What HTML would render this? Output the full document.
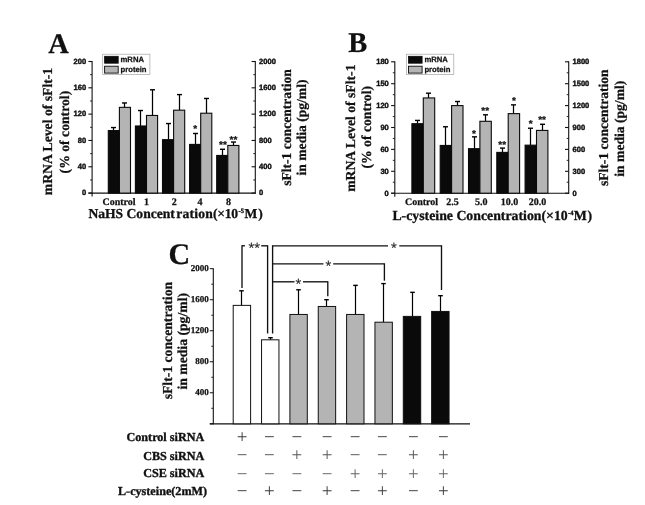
<!DOCTYPE html>
<html><head><meta charset="utf-8"><title>Figure</title>
<style>text{text-rendering:geometricPrecision;}html,body{margin:0;padding:0;background:#fff;}svg{display:block;}</style>
</head><body>
<svg width="645" height="505" viewBox="0 0 645 505">
<rect x="0" y="0" width="645" height="505" fill="#ffffff"/>
<line x1="92.10" y1="61.00" x2="92.10" y2="196.60" stroke="#111" stroke-width="1.1"/>
<line x1="255.30" y1="61.00" x2="255.30" y2="193.60" stroke="#111" stroke-width="1.1"/>
<line x1="88.40" y1="193.10" x2="255.80" y2="193.10" stroke="#111" stroke-width="1.1"/>
<line x1="88.40" y1="193.10" x2="92.10" y2="193.10" stroke="#111" stroke-width="1.1"/>
<line x1="251.60" y1="193.10" x2="255.30" y2="193.10" stroke="#111" stroke-width="1.1"/>
<text x="86.10" y="195.40" font-family='"Liberation Sans", sans-serif' font-size="7.55" font-weight="bold" text-anchor="end" fill="#111" stroke="#111" stroke-width="0.4">0</text>
<text x="259.10" y="195.40" font-family='"Liberation Sans", sans-serif' font-size="7.55" font-weight="bold" text-anchor="start" fill="#111" stroke="#111" stroke-width="0.4">0</text>
<line x1="90.10" y1="179.94" x2="92.10" y2="179.94" stroke="#111" stroke-width="0.9"/>
<line x1="253.30" y1="179.94" x2="255.30" y2="179.94" stroke="#111" stroke-width="0.9"/>
<line x1="88.40" y1="166.78" x2="92.10" y2="166.78" stroke="#111" stroke-width="1.1"/>
<line x1="251.60" y1="166.78" x2="255.30" y2="166.78" stroke="#111" stroke-width="1.1"/>
<text x="86.10" y="169.08" font-family='"Liberation Sans", sans-serif' font-size="7.55" font-weight="bold" text-anchor="end" fill="#111" stroke="#111" stroke-width="0.4">40</text>
<text x="259.10" y="169.08" font-family='"Liberation Sans", sans-serif' font-size="7.55" font-weight="bold" text-anchor="start" fill="#111" stroke="#111" stroke-width="0.4">400</text>
<line x1="90.10" y1="153.62" x2="92.10" y2="153.62" stroke="#111" stroke-width="0.9"/>
<line x1="253.30" y1="153.62" x2="255.30" y2="153.62" stroke="#111" stroke-width="0.9"/>
<line x1="88.40" y1="140.46" x2="92.10" y2="140.46" stroke="#111" stroke-width="1.1"/>
<line x1="251.60" y1="140.46" x2="255.30" y2="140.46" stroke="#111" stroke-width="1.1"/>
<text x="86.10" y="142.76" font-family='"Liberation Sans", sans-serif' font-size="7.55" font-weight="bold" text-anchor="end" fill="#111" stroke="#111" stroke-width="0.4">80</text>
<text x="259.10" y="142.76" font-family='"Liberation Sans", sans-serif' font-size="7.55" font-weight="bold" text-anchor="start" fill="#111" stroke="#111" stroke-width="0.4">800</text>
<line x1="90.10" y1="127.30" x2="92.10" y2="127.30" stroke="#111" stroke-width="0.9"/>
<line x1="253.30" y1="127.30" x2="255.30" y2="127.30" stroke="#111" stroke-width="0.9"/>
<line x1="88.40" y1="114.14" x2="92.10" y2="114.14" stroke="#111" stroke-width="1.1"/>
<line x1="251.60" y1="114.14" x2="255.30" y2="114.14" stroke="#111" stroke-width="1.1"/>
<text x="86.10" y="116.44" font-family='"Liberation Sans", sans-serif' font-size="7.55" font-weight="bold" text-anchor="end" fill="#111" stroke="#111" stroke-width="0.4">120</text>
<text x="259.10" y="116.44" font-family='"Liberation Sans", sans-serif' font-size="7.55" font-weight="bold" text-anchor="start" fill="#111" stroke="#111" stroke-width="0.4">1200</text>
<line x1="90.10" y1="100.98" x2="92.10" y2="100.98" stroke="#111" stroke-width="0.9"/>
<line x1="253.30" y1="100.98" x2="255.30" y2="100.98" stroke="#111" stroke-width="0.9"/>
<line x1="88.40" y1="87.82" x2="92.10" y2="87.82" stroke="#111" stroke-width="1.1"/>
<line x1="251.60" y1="87.82" x2="255.30" y2="87.82" stroke="#111" stroke-width="1.1"/>
<text x="86.10" y="90.12" font-family='"Liberation Sans", sans-serif' font-size="7.55" font-weight="bold" text-anchor="end" fill="#111" stroke="#111" stroke-width="0.4">160</text>
<text x="259.10" y="90.12" font-family='"Liberation Sans", sans-serif' font-size="7.55" font-weight="bold" text-anchor="start" fill="#111" stroke="#111" stroke-width="0.4">1600</text>
<line x1="90.10" y1="74.66" x2="92.10" y2="74.66" stroke="#111" stroke-width="0.9"/>
<line x1="253.30" y1="74.66" x2="255.30" y2="74.66" stroke="#111" stroke-width="0.9"/>
<line x1="88.40" y1="61.50" x2="92.10" y2="61.50" stroke="#111" stroke-width="1.1"/>
<line x1="251.60" y1="61.50" x2="255.30" y2="61.50" stroke="#111" stroke-width="1.1"/>
<text x="86.10" y="63.80" font-family='"Liberation Sans", sans-serif' font-size="7.55" font-weight="bold" text-anchor="end" fill="#111" stroke="#111" stroke-width="0.4">200</text>
<text x="259.10" y="63.80" font-family='"Liberation Sans", sans-serif' font-size="7.55" font-weight="bold" text-anchor="start" fill="#111" stroke="#111" stroke-width="0.4">2000</text>
<line x1="113.50" y1="130.59" x2="113.50" y2="127.56" stroke="#000" stroke-width="1.25"/>
<line x1="111.00" y1="127.56" x2="116.00" y2="127.56" stroke="#000" stroke-width="1.4"/>
<rect x="108.30" y="130.59" width="11.10" height="62.51" fill="#0a0a0a" stroke="#0a0a0a" stroke-width="1.1"/>
<line x1="124.50" y1="107.36" x2="124.50" y2="102.95" stroke="#000" stroke-width="1.25"/>
<line x1="122.00" y1="102.95" x2="127.00" y2="102.95" stroke="#000" stroke-width="1.4"/>
<rect x="119.40" y="107.36" width="11.10" height="85.74" fill="#b4b4b4" stroke="#0a0a0a" stroke-width="1.1"/>
<line x1="140.50" y1="125.98" x2="140.50" y2="110.52" stroke="#000" stroke-width="1.25"/>
<line x1="138.00" y1="110.52" x2="143.00" y2="110.52" stroke="#000" stroke-width="1.4"/>
<rect x="135.40" y="125.98" width="11.10" height="67.12" fill="#0a0a0a" stroke="#0a0a0a" stroke-width="1.1"/>
<line x1="152.50" y1="115.46" x2="152.50" y2="89.79" stroke="#000" stroke-width="1.25"/>
<line x1="150.00" y1="89.79" x2="155.00" y2="89.79" stroke="#000" stroke-width="1.4"/>
<rect x="146.50" y="115.46" width="11.10" height="77.64" fill="#b4b4b4" stroke="#0a0a0a" stroke-width="1.1"/>
<line x1="168.50" y1="139.67" x2="168.50" y2="123.55" stroke="#000" stroke-width="1.25"/>
<line x1="166.00" y1="123.55" x2="171.00" y2="123.55" stroke="#000" stroke-width="1.4"/>
<rect x="162.50" y="139.67" width="11.10" height="53.43" fill="#0a0a0a" stroke="#0a0a0a" stroke-width="1.1"/>
<line x1="179.50" y1="110.19" x2="179.50" y2="94.60" stroke="#000" stroke-width="1.25"/>
<line x1="177.00" y1="94.60" x2="182.00" y2="94.60" stroke="#000" stroke-width="1.4"/>
<rect x="173.60" y="110.19" width="11.10" height="82.91" fill="#b4b4b4" stroke="#0a0a0a" stroke-width="1.1"/>
<line x1="195.50" y1="144.41" x2="195.50" y2="133.49" stroke="#000" stroke-width="1.25"/>
<line x1="193.00" y1="133.49" x2="198.00" y2="133.49" stroke="#000" stroke-width="1.4"/>
<rect x="189.60" y="144.41" width="11.10" height="48.69" fill="#0a0a0a" stroke="#0a0a0a" stroke-width="1.1"/>
<line x1="206.50" y1="113.22" x2="206.50" y2="98.48" stroke="#000" stroke-width="1.25"/>
<line x1="204.00" y1="98.48" x2="209.00" y2="98.48" stroke="#000" stroke-width="1.4"/>
<rect x="200.70" y="113.22" width="11.10" height="79.88" fill="#b4b4b4" stroke="#0a0a0a" stroke-width="1.1"/>
<line x1="222.50" y1="155.46" x2="222.50" y2="149.28" stroke="#000" stroke-width="1.25"/>
<line x1="220.00" y1="149.28" x2="225.00" y2="149.28" stroke="#000" stroke-width="1.4"/>
<rect x="216.70" y="155.46" width="11.10" height="37.64" fill="#0a0a0a" stroke="#0a0a0a" stroke-width="1.1"/>
<line x1="233.50" y1="145.46" x2="233.50" y2="142.04" stroke="#000" stroke-width="1.25"/>
<line x1="231.00" y1="142.04" x2="236.00" y2="142.04" stroke="#000" stroke-width="1.4"/>
<rect x="227.80" y="145.46" width="11.10" height="47.64" fill="#b4b4b4" stroke="#0a0a0a" stroke-width="1.1"/>
<text x="195.30" y="131.90" font-family='"Liberation Sans", sans-serif' font-size="10" font-weight="bold" text-anchor="middle" fill="#111"  stroke="#111" stroke-width="0.25">*</text>
<text x="223.00" y="148.00" font-family='"Liberation Sans", sans-serif' font-size="10" font-weight="bold" text-anchor="middle" fill="#111"  stroke="#111" stroke-width="0.25">**</text>
<text x="233.50" y="143.00" font-family='"Liberation Sans", sans-serif' font-size="10" font-weight="bold" text-anchor="middle" fill="#111"  stroke="#111" stroke-width="0.25">**</text>
<text x="119.00" y="204.60" font-family='"Liberation Serif", serif' font-size="10" font-weight="bold" text-anchor="middle" fill="#111"  stroke="#111" stroke-width="0.25">Control</text>
<text x="146.40" y="204.60" font-family='"Liberation Serif", serif' font-size="10" font-weight="bold" text-anchor="middle" fill="#111"  stroke="#111" stroke-width="0.25">1</text>
<text x="174.20" y="204.60" font-family='"Liberation Serif", serif' font-size="10" font-weight="bold" text-anchor="middle" fill="#111"  stroke="#111" stroke-width="0.25">2</text>
<text x="200.00" y="204.60" font-family='"Liberation Serif", serif' font-size="10" font-weight="bold" text-anchor="middle" fill="#111"  stroke="#111" stroke-width="0.25">4</text>
<text x="228.60" y="204.60" font-family='"Liberation Serif", serif' font-size="10" font-weight="bold" text-anchor="middle" fill="#111"  stroke="#111" stroke-width="0.25">8</text>
<text x="88.4" y="217.9" font-family='"Liberation Serif", serif' font-size="13.6" font-weight="bold" fill="#111" stroke="#111" stroke-width="0.3">NaHS Concent<tspan dx="1.3" letter-spacing="0.22">ration</tspan><tspan letter-spacing="-0.3">(×10</tspan><tspan font-size="6.5" dx="0.8" dy="-5">-5</tspan><tspan dx="0.6" dy="5" letter-spacing="0.9">M)</tspan></text>
<rect x="102.70" y="54.20" width="47.20" height="20.20" fill="#fff" stroke="#a4a4a4" stroke-width="0.7"/>
<rect x="104.60" y="56.30" width="13.60" height="6.90" fill="#0a0a0a" stroke="#0a0a0a" stroke-width="0.8"/>
<rect x="104.60" y="66.20" width="13.60" height="6.90" fill="#b4b4b4" stroke="#0a0a0a" stroke-width="0.9"/>
<text x="120.50" y="62.40" font-family='"Liberation Sans", sans-serif' font-size="7.7" font-weight="bold" text-anchor="start" fill="#111"  stroke="#111" stroke-width="0.25">mRNA</text>
<text x="120.50" y="72.10" font-family='"Liberation Sans", sans-serif' font-size="7.7" font-weight="bold" text-anchor="start" fill="#111"  stroke="#111" stroke-width="0.25">protein</text>
<text x="48.20" y="52.50" font-family='"Liberation Serif", serif' font-size="28.5" font-weight="bold" text-anchor="start" fill="#111"  stroke="#111" stroke-width="0.25">A</text>
<text stroke="#111" stroke-width="0.25" transform="translate(52.30,131.50) rotate(-90)" font-family='"Liberation Serif", serif' font-size="13.7" font-weight="bold" text-anchor="middle" fill="#111">mRNA Level of sFlt-1</text>
<text stroke="#111" stroke-width="0.25" transform="translate(68.60,132.10) rotate(-90)" font-family='"Liberation Serif", serif' font-size="13.7" font-weight="bold" text-anchor="middle" fill="#111">(% of control)</text>
<text stroke="#111" stroke-width="0.25" transform="translate(291.00,127.50) rotate(-90)" font-family='"Liberation Serif", serif' font-size="13.6" font-weight="bold" text-anchor="middle" fill="#111">sFlt-1 concentration</text>
<text stroke="#111" stroke-width="0.25" transform="translate(305.70,127.50) rotate(-90)" font-family='"Liberation Serif", serif' font-size="13.6" font-weight="bold" text-anchor="middle" fill="#111">in media (pg/ml)</text>
<line x1="394.80" y1="61.30" x2="394.80" y2="196.70" stroke="#111" stroke-width="1.1"/>
<line x1="568.70" y1="61.30" x2="568.70" y2="193.70" stroke="#111" stroke-width="1.1"/>
<line x1="391.10" y1="193.20" x2="569.20" y2="193.20" stroke="#111" stroke-width="1.1"/>
<line x1="391.10" y1="193.20" x2="394.80" y2="193.20" stroke="#111" stroke-width="1.1"/>
<line x1="565.00" y1="193.20" x2="568.70" y2="193.20" stroke="#111" stroke-width="1.1"/>
<text x="388.80" y="195.50" font-family='"Liberation Sans", sans-serif' font-size="7.55" font-weight="bold" text-anchor="end" fill="#111" stroke="#111" stroke-width="0.4">0</text>
<text x="572.50" y="195.50" font-family='"Liberation Sans", sans-serif' font-size="7.55" font-weight="bold" text-anchor="start" fill="#111" stroke="#111" stroke-width="0.4">0</text>
<line x1="392.80" y1="182.25" x2="394.80" y2="182.25" stroke="#111" stroke-width="0.9"/>
<line x1="566.70" y1="182.25" x2="568.70" y2="182.25" stroke="#111" stroke-width="0.9"/>
<line x1="391.10" y1="171.30" x2="394.80" y2="171.30" stroke="#111" stroke-width="1.1"/>
<line x1="565.00" y1="171.30" x2="568.70" y2="171.30" stroke="#111" stroke-width="1.1"/>
<text x="388.80" y="173.60" font-family='"Liberation Sans", sans-serif' font-size="7.55" font-weight="bold" text-anchor="end" fill="#111" stroke="#111" stroke-width="0.4">30</text>
<text x="572.50" y="173.60" font-family='"Liberation Sans", sans-serif' font-size="7.55" font-weight="bold" text-anchor="start" fill="#111" stroke="#111" stroke-width="0.4">300</text>
<line x1="392.80" y1="160.35" x2="394.80" y2="160.35" stroke="#111" stroke-width="0.9"/>
<line x1="566.70" y1="160.35" x2="568.70" y2="160.35" stroke="#111" stroke-width="0.9"/>
<line x1="391.10" y1="149.40" x2="394.80" y2="149.40" stroke="#111" stroke-width="1.1"/>
<line x1="565.00" y1="149.40" x2="568.70" y2="149.40" stroke="#111" stroke-width="1.1"/>
<text x="388.80" y="151.70" font-family='"Liberation Sans", sans-serif' font-size="7.55" font-weight="bold" text-anchor="end" fill="#111" stroke="#111" stroke-width="0.4">60</text>
<text x="572.50" y="151.70" font-family='"Liberation Sans", sans-serif' font-size="7.55" font-weight="bold" text-anchor="start" fill="#111" stroke="#111" stroke-width="0.4">600</text>
<line x1="392.80" y1="138.45" x2="394.80" y2="138.45" stroke="#111" stroke-width="0.9"/>
<line x1="566.70" y1="138.45" x2="568.70" y2="138.45" stroke="#111" stroke-width="0.9"/>
<line x1="391.10" y1="127.50" x2="394.80" y2="127.50" stroke="#111" stroke-width="1.1"/>
<line x1="565.00" y1="127.50" x2="568.70" y2="127.50" stroke="#111" stroke-width="1.1"/>
<text x="388.80" y="129.80" font-family='"Liberation Sans", sans-serif' font-size="7.55" font-weight="bold" text-anchor="end" fill="#111" stroke="#111" stroke-width="0.4">90</text>
<text x="572.50" y="129.80" font-family='"Liberation Sans", sans-serif' font-size="7.55" font-weight="bold" text-anchor="start" fill="#111" stroke="#111" stroke-width="0.4">900</text>
<line x1="392.80" y1="116.55" x2="394.80" y2="116.55" stroke="#111" stroke-width="0.9"/>
<line x1="566.70" y1="116.55" x2="568.70" y2="116.55" stroke="#111" stroke-width="0.9"/>
<line x1="391.10" y1="105.60" x2="394.80" y2="105.60" stroke="#111" stroke-width="1.1"/>
<line x1="565.00" y1="105.60" x2="568.70" y2="105.60" stroke="#111" stroke-width="1.1"/>
<text x="388.80" y="107.90" font-family='"Liberation Sans", sans-serif' font-size="7.55" font-weight="bold" text-anchor="end" fill="#111" stroke="#111" stroke-width="0.4">120</text>
<text x="572.50" y="107.90" font-family='"Liberation Sans", sans-serif' font-size="7.55" font-weight="bold" text-anchor="start" fill="#111" stroke="#111" stroke-width="0.4">1200</text>
<line x1="392.80" y1="94.65" x2="394.80" y2="94.65" stroke="#111" stroke-width="0.9"/>
<line x1="566.70" y1="94.65" x2="568.70" y2="94.65" stroke="#111" stroke-width="0.9"/>
<line x1="391.10" y1="83.70" x2="394.80" y2="83.70" stroke="#111" stroke-width="1.1"/>
<line x1="565.00" y1="83.70" x2="568.70" y2="83.70" stroke="#111" stroke-width="1.1"/>
<text x="388.80" y="86.00" font-family='"Liberation Sans", sans-serif' font-size="7.55" font-weight="bold" text-anchor="end" fill="#111" stroke="#111" stroke-width="0.4">150</text>
<text x="572.50" y="86.00" font-family='"Liberation Sans", sans-serif' font-size="7.55" font-weight="bold" text-anchor="start" fill="#111" stroke="#111" stroke-width="0.4">1500</text>
<line x1="392.80" y1="72.75" x2="394.80" y2="72.75" stroke="#111" stroke-width="0.9"/>
<line x1="566.70" y1="72.75" x2="568.70" y2="72.75" stroke="#111" stroke-width="0.9"/>
<line x1="391.10" y1="61.80" x2="394.80" y2="61.80" stroke="#111" stroke-width="1.1"/>
<line x1="565.00" y1="61.80" x2="568.70" y2="61.80" stroke="#111" stroke-width="1.1"/>
<text x="388.80" y="64.10" font-family='"Liberation Sans", sans-serif' font-size="7.55" font-weight="bold" text-anchor="end" fill="#111" stroke="#111" stroke-width="0.4">180</text>
<text x="572.50" y="64.10" font-family='"Liberation Sans", sans-serif' font-size="7.55" font-weight="bold" text-anchor="start" fill="#111" stroke="#111" stroke-width="0.4">1800</text>
<line x1="417.50" y1="123.70" x2="417.50" y2="120.42" stroke="#000" stroke-width="1.25"/>
<line x1="415.00" y1="120.42" x2="420.00" y2="120.42" stroke="#000" stroke-width="1.4"/>
<rect x="411.90" y="123.70" width="11.40" height="69.50" fill="#0a0a0a" stroke="#0a0a0a" stroke-width="1.1"/>
<line x1="428.50" y1="97.94" x2="428.50" y2="93.19" stroke="#000" stroke-width="1.25"/>
<line x1="426.00" y1="93.19" x2="431.00" y2="93.19" stroke="#000" stroke-width="1.4"/>
<rect x="423.30" y="97.94" width="11.40" height="95.26" fill="#b4b4b4" stroke="#0a0a0a" stroke-width="1.1"/>
<line x1="445.50" y1="145.46" x2="445.50" y2="126.77" stroke="#000" stroke-width="1.25"/>
<line x1="443.00" y1="126.77" x2="448.00" y2="126.77" stroke="#000" stroke-width="1.4"/>
<rect x="440.20" y="145.46" width="11.40" height="47.74" fill="#0a0a0a" stroke="#0a0a0a" stroke-width="1.1"/>
<line x1="457.50" y1="105.60" x2="457.50" y2="101.51" stroke="#000" stroke-width="1.25"/>
<line x1="455.00" y1="101.51" x2="460.00" y2="101.51" stroke="#000" stroke-width="1.4"/>
<rect x="451.60" y="105.60" width="11.40" height="87.60" fill="#b4b4b4" stroke="#0a0a0a" stroke-width="1.1"/>
<line x1="474.50" y1="148.67" x2="474.50" y2="136.84" stroke="#000" stroke-width="1.25"/>
<line x1="472.00" y1="136.84" x2="477.00" y2="136.84" stroke="#000" stroke-width="1.4"/>
<rect x="468.50" y="148.67" width="11.40" height="44.53" fill="#0a0a0a" stroke="#0a0a0a" stroke-width="1.1"/>
<line x1="485.50" y1="121.30" x2="485.50" y2="114.80" stroke="#000" stroke-width="1.25"/>
<line x1="483.00" y1="114.80" x2="488.00" y2="114.80" stroke="#000" stroke-width="1.4"/>
<rect x="479.90" y="121.30" width="11.40" height="71.90" fill="#b4b4b4" stroke="#0a0a0a" stroke-width="1.1"/>
<line x1="502.50" y1="152.39" x2="502.50" y2="148.09" stroke="#000" stroke-width="1.25"/>
<line x1="500.00" y1="148.09" x2="505.00" y2="148.09" stroke="#000" stroke-width="1.4"/>
<rect x="496.80" y="152.39" width="11.40" height="40.81" fill="#0a0a0a" stroke="#0a0a0a" stroke-width="1.1"/>
<line x1="513.50" y1="113.63" x2="513.50" y2="104.87" stroke="#000" stroke-width="1.25"/>
<line x1="511.00" y1="104.87" x2="516.00" y2="104.87" stroke="#000" stroke-width="1.4"/>
<rect x="508.20" y="113.63" width="11.40" height="79.57" fill="#b4b4b4" stroke="#0a0a0a" stroke-width="1.1"/>
<line x1="530.50" y1="145.17" x2="530.50" y2="128.23" stroke="#000" stroke-width="1.25"/>
<line x1="528.00" y1="128.23" x2="533.00" y2="128.23" stroke="#000" stroke-width="1.4"/>
<rect x="525.10" y="145.17" width="11.40" height="48.03" fill="#0a0a0a" stroke="#0a0a0a" stroke-width="1.1"/>
<line x1="542.50" y1="130.42" x2="542.50" y2="124.29" stroke="#000" stroke-width="1.25"/>
<line x1="540.00" y1="124.29" x2="545.00" y2="124.29" stroke="#000" stroke-width="1.4"/>
<rect x="536.50" y="130.42" width="11.40" height="62.78" fill="#b4b4b4" stroke="#0a0a0a" stroke-width="1.1"/>
<text x="474.00" y="137.00" font-family='"Liberation Sans", sans-serif' font-size="10" font-weight="bold" text-anchor="middle" fill="#111"  stroke="#111" stroke-width="0.25">*</text>
<text x="485.20" y="113.60" font-family='"Liberation Sans", sans-serif' font-size="10" font-weight="bold" text-anchor="middle" fill="#111"  stroke="#111" stroke-width="0.25">**</text>
<text x="502.20" y="148.30" font-family='"Liberation Sans", sans-serif' font-size="10" font-weight="bold" text-anchor="middle" fill="#111"  stroke="#111" stroke-width="0.25">**</text>
<text x="514.00" y="103.70" font-family='"Liberation Sans", sans-serif' font-size="10" font-weight="bold" text-anchor="middle" fill="#111"  stroke="#111" stroke-width="0.25">*</text>
<text x="530.60" y="127.20" font-family='"Liberation Sans", sans-serif' font-size="10" font-weight="bold" text-anchor="middle" fill="#111"  stroke="#111" stroke-width="0.25">*</text>
<text x="542.10" y="123.30" font-family='"Liberation Sans", sans-serif' font-size="10" font-weight="bold" text-anchor="middle" fill="#111"  stroke="#111" stroke-width="0.25">**</text>
<text x="421.50" y="204.70" font-family='"Liberation Serif", serif' font-size="10" font-weight="bold" text-anchor="middle" fill="#111"  stroke="#111" stroke-width="0.25">Control</text>
<text x="452.60" y="204.70" font-family='"Liberation Serif", serif' font-size="10" font-weight="bold" text-anchor="middle" fill="#111"  stroke="#111" stroke-width="0.25">2.5</text>
<text x="481.30" y="204.70" font-family='"Liberation Serif", serif' font-size="10" font-weight="bold" text-anchor="middle" fill="#111"  stroke="#111" stroke-width="0.25">5.0</text>
<text x="509.60" y="204.70" font-family='"Liberation Serif", serif' font-size="10" font-weight="bold" text-anchor="middle" fill="#111"  stroke="#111" stroke-width="0.25">10.0</text>
<text x="537.60" y="204.70" font-family='"Liberation Serif", serif' font-size="10" font-weight="bold" text-anchor="middle" fill="#111"  stroke="#111" stroke-width="0.25">20.0</text>
<text x="392.4" y="220" font-family='"Liberation Serif", serif' font-size="13.8" font-weight="bold" fill="#111" stroke="#111" stroke-width="0.3">L-cysteine Concentration(×10<tspan font-size="6.5" dx="0.3" dy="-5">-4</tspan><tspan dx="0.3" dy="5" letter-spacing="0.7">M)</tspan></text>
<rect x="406.60" y="54.20" width="47.20" height="20.20" fill="#fff" stroke="#a4a4a4" stroke-width="0.7"/>
<rect x="408.50" y="56.30" width="13.60" height="6.90" fill="#0a0a0a" stroke="#0a0a0a" stroke-width="0.8"/>
<rect x="408.50" y="66.20" width="13.60" height="6.90" fill="#b4b4b4" stroke="#0a0a0a" stroke-width="0.9"/>
<text x="424.40" y="62.40" font-family='"Liberation Sans", sans-serif' font-size="7.7" font-weight="bold" text-anchor="start" fill="#111"  stroke="#111" stroke-width="0.25">mRNA</text>
<text x="424.40" y="72.10" font-family='"Liberation Sans", sans-serif' font-size="7.7" font-weight="bold" text-anchor="start" fill="#111"  stroke="#111" stroke-width="0.25">protein</text>
<text x="348.30" y="52.10" font-family='"Liberation Serif", serif' font-size="28.5" font-weight="bold" text-anchor="start" fill="#111"  stroke="#111" stroke-width="0.25">B</text>
<text stroke="#111" stroke-width="0.25" transform="translate(355.00,128.20) rotate(-90)" font-family='"Liberation Serif", serif' font-size="13.7" font-weight="bold" text-anchor="middle" fill="#111">mRNA Level of sFlt-1</text>
<text stroke="#111" stroke-width="0.25" transform="translate(370.60,127.30) rotate(-90)" font-family='"Liberation Serif", serif' font-size="13.7" font-weight="bold" text-anchor="middle" fill="#111">(% of control)</text>
<text stroke="#111" stroke-width="0.25" transform="translate(608.00,127.70) rotate(-90)" font-family='"Liberation Serif", serif' font-size="13.6" font-weight="bold" text-anchor="middle" fill="#111">sFlt-1 concentration</text>
<text stroke="#111" stroke-width="0.25" transform="translate(624.00,128.70) rotate(-90)" font-family='"Liberation Serif", serif' font-size="13.6" font-weight="bold" text-anchor="middle" fill="#111">in media (pg/ml)</text>
<line x1="213.30" y1="268.20" x2="213.30" y2="424.30" stroke="#111" stroke-width="1.1"/>
<line x1="209.80" y1="423.80" x2="470.00" y2="423.80" stroke="#111" stroke-width="1.2"/>
<line x1="209.80" y1="423.80" x2="213.30" y2="423.80" stroke="#111" stroke-width="1.0"/>
<line x1="211.30" y1="408.29" x2="213.30" y2="408.29" stroke="#111" stroke-width="0.9"/>
<line x1="209.80" y1="392.78" x2="213.30" y2="392.78" stroke="#111" stroke-width="1.0"/>
<text x="208.70" y="395.08" font-family='"Liberation Serif", serif' font-size="9" font-weight="bold" text-anchor="end" fill="#111"  stroke="#111" stroke-width="0.25">400</text>
<line x1="211.30" y1="377.27" x2="213.30" y2="377.27" stroke="#111" stroke-width="0.9"/>
<line x1="209.80" y1="361.76" x2="213.30" y2="361.76" stroke="#111" stroke-width="1.0"/>
<text x="208.70" y="364.06" font-family='"Liberation Serif", serif' font-size="9" font-weight="bold" text-anchor="end" fill="#111"  stroke="#111" stroke-width="0.25">800</text>
<line x1="211.30" y1="346.25" x2="213.30" y2="346.25" stroke="#111" stroke-width="0.9"/>
<line x1="209.80" y1="330.74" x2="213.30" y2="330.74" stroke="#111" stroke-width="1.0"/>
<text x="208.70" y="333.04" font-family='"Liberation Serif", serif' font-size="9" font-weight="bold" text-anchor="end" fill="#111"  stroke="#111" stroke-width="0.25">1200</text>
<line x1="211.30" y1="315.23" x2="213.30" y2="315.23" stroke="#111" stroke-width="0.9"/>
<line x1="209.80" y1="299.72" x2="213.30" y2="299.72" stroke="#111" stroke-width="1.0"/>
<text x="208.70" y="302.02" font-family='"Liberation Serif", serif' font-size="9" font-weight="bold" text-anchor="end" fill="#111"  stroke="#111" stroke-width="0.25">1600</text>
<line x1="211.30" y1="284.21" x2="213.30" y2="284.21" stroke="#111" stroke-width="0.9"/>
<line x1="209.80" y1="268.70" x2="213.30" y2="268.70" stroke="#111" stroke-width="1.0"/>
<text x="208.70" y="271.00" font-family='"Liberation Serif", serif' font-size="9" font-weight="bold" text-anchor="end" fill="#111"  stroke="#111" stroke-width="0.25">2000</text>
<line x1="241.50" y1="305.38" x2="241.50" y2="290.80" stroke="#000" stroke-width="1.2"/>
<line x1="239.20" y1="290.80" x2="243.80" y2="290.80" stroke="#000" stroke-width="1.4"/>
<rect x="233.20" y="305.38" width="17.40" height="118.42" fill="#fff" stroke="#111" stroke-width="1.0"/>
<line x1="270.50" y1="339.81" x2="270.50" y2="337.72" stroke="#000" stroke-width="1.2"/>
<line x1="268.20" y1="337.72" x2="272.80" y2="337.72" stroke="#000" stroke-width="1.4"/>
<rect x="261.55" y="339.81" width="17.40" height="83.99" fill="#fff" stroke="#111" stroke-width="1.0"/>
<line x1="298.50" y1="314.45" x2="298.50" y2="289.79" stroke="#000" stroke-width="1.2"/>
<line x1="296.20" y1="289.79" x2="300.80" y2="289.79" stroke="#000" stroke-width="1.4"/>
<rect x="289.90" y="314.45" width="17.40" height="109.35" fill="#b4b4b4" stroke="#111" stroke-width="1.0"/>
<line x1="326.50" y1="306.47" x2="326.50" y2="299.72" stroke="#000" stroke-width="1.2"/>
<line x1="324.20" y1="299.72" x2="328.80" y2="299.72" stroke="#000" stroke-width="1.4"/>
<rect x="318.25" y="306.47" width="17.40" height="117.33" fill="#b4b4b4" stroke="#111" stroke-width="1.0"/>
<line x1="355.50" y1="314.45" x2="355.50" y2="285.37" stroke="#000" stroke-width="1.2"/>
<line x1="353.20" y1="285.37" x2="357.80" y2="285.37" stroke="#000" stroke-width="1.4"/>
<rect x="346.60" y="314.45" width="17.40" height="109.35" fill="#b4b4b4" stroke="#111" stroke-width="1.0"/>
<line x1="383.50" y1="322.21" x2="383.50" y2="283.59" stroke="#000" stroke-width="1.2"/>
<line x1="381.20" y1="283.59" x2="385.80" y2="283.59" stroke="#000" stroke-width="1.4"/>
<rect x="374.95" y="322.21" width="17.40" height="101.59" fill="#b4b4b4" stroke="#111" stroke-width="1.0"/>
<line x1="412.50" y1="316.39" x2="412.50" y2="292.35" stroke="#000" stroke-width="1.2"/>
<line x1="410.20" y1="292.35" x2="414.80" y2="292.35" stroke="#000" stroke-width="1.4"/>
<rect x="403.30" y="316.39" width="17.40" height="107.41" fill="#0a0a0a" stroke="#111" stroke-width="1.0"/>
<line x1="440.50" y1="311.43" x2="440.50" y2="295.69" stroke="#000" stroke-width="1.2"/>
<line x1="438.20" y1="295.69" x2="442.80" y2="295.69" stroke="#000" stroke-width="1.4"/>
<rect x="431.65" y="311.43" width="17.40" height="112.37" fill="#0a0a0a" stroke="#111" stroke-width="1.0"/>
<line x1="242.00" y1="245.30" x2="242.00" y2="288.00" stroke="#111" stroke-width="1.35"/>
<line x1="242.00" y1="245.80" x2="245.00" y2="245.80" stroke="#111" stroke-width="1.35"/>
<line x1="261.20" y1="245.80" x2="267.60" y2="245.80" stroke="#111" stroke-width="1.35"/>
<line x1="267.60" y1="245.30" x2="267.60" y2="333.50" stroke="#111" stroke-width="1.35"/>
<text x="254.20" y="252.60" font-family='"Liberation Sans", sans-serif' font-size="14.8" font-weight="normal" text-anchor="middle" fill="#2a2a2a" stroke="#2a2a2a" stroke-width="0.15">**</text>
<line x1="272.60" y1="245.30" x2="272.60" y2="333.50" stroke="#111" stroke-width="1.35"/>
<line x1="272.60" y1="245.80" x2="388.00" y2="245.80" stroke="#111" stroke-width="1.35"/>
<line x1="399.30" y1="245.80" x2="441.50" y2="245.80" stroke="#111" stroke-width="1.35"/>
<line x1="441.50" y1="245.30" x2="441.50" y2="290.00" stroke="#111" stroke-width="1.35"/>
<text x="393.90" y="252.60" font-family='"Liberation Sans", sans-serif' font-size="14.8" font-weight="normal" text-anchor="middle" fill="#2a2a2a" stroke="#2a2a2a" stroke-width="0.15">*</text>
<line x1="272.60" y1="263.80" x2="323.50" y2="263.80" stroke="#111" stroke-width="1.35"/>
<line x1="333.20" y1="263.80" x2="384.40" y2="263.80" stroke="#111" stroke-width="1.35"/>
<line x1="384.40" y1="263.30" x2="384.40" y2="280.70" stroke="#111" stroke-width="1.35"/>
<text x="328.50" y="270.60" font-family='"Liberation Sans", sans-serif' font-size="14.8" font-weight="normal" text-anchor="middle" fill="#2a2a2a" stroke="#2a2a2a" stroke-width="0.15">*</text>
<line x1="272.60" y1="281.80" x2="294.50" y2="281.80" stroke="#111" stroke-width="1.35"/>
<line x1="303.00" y1="281.80" x2="327.80" y2="281.80" stroke="#111" stroke-width="1.35"/>
<line x1="327.80" y1="281.30" x2="327.80" y2="296.30" stroke="#111" stroke-width="1.35"/>
<text x="298.50" y="288.60" font-family='"Liberation Sans", sans-serif' font-size="14.8" font-weight="normal" text-anchor="middle" fill="#2a2a2a" stroke="#2a2a2a" stroke-width="0.15">*</text>
<text x="168.40" y="263.80" font-family='"Liberation Serif", serif' font-size="30" font-weight="bold" text-anchor="start" fill="#111"  stroke="#111" stroke-width="0.25">C</text>
<text stroke="#111" stroke-width="0.25" transform="translate(172.40,340.60) rotate(-90)" font-family='"Liberation Serif", serif' font-size="13.7" font-weight="bold" text-anchor="middle" fill="#111">sFlt-1 concentration</text>
<text stroke="#111" stroke-width="0.25" transform="translate(187.00,341.30) rotate(-90)" font-family='"Liberation Serif", serif' font-size="13.7" font-weight="bold" text-anchor="middle" fill="#111">in media (pg/ml)</text>
<text x="204.20" y="440.80" font-family='"Liberation Serif", serif' font-size="12.15" font-weight="bold" text-anchor="end" fill="#111" stroke="#111" stroke-width="0.35">Control siRNA</text>
<text x="242.00" y="442.80" font-family='"Liberation Serif", serif' font-size="19" font-weight="normal" text-anchor="middle" fill="#3a3a3a" >+</text>
<text x="269.30" y="442.80" font-family='"Liberation Serif", serif' font-size="19" font-weight="normal" text-anchor="middle" fill="#3a3a3a" >−</text>
<text x="296.80" y="442.80" font-family='"Liberation Serif", serif' font-size="19" font-weight="normal" text-anchor="middle" fill="#3a3a3a" >−</text>
<text x="327.20" y="442.80" font-family='"Liberation Serif", serif' font-size="19" font-weight="normal" text-anchor="middle" fill="#3a3a3a" >−</text>
<text x="355.10" y="442.80" font-family='"Liberation Serif", serif' font-size="19" font-weight="normal" text-anchor="middle" fill="#3a3a3a" >−</text>
<text x="382.30" y="442.80" font-family='"Liberation Serif", serif' font-size="19" font-weight="normal" text-anchor="middle" fill="#3a3a3a" >−</text>
<text x="413.30" y="442.80" font-family='"Liberation Serif", serif' font-size="19" font-weight="normal" text-anchor="middle" fill="#3a3a3a" >−</text>
<text x="443.40" y="442.80" font-family='"Liberation Serif", serif' font-size="19" font-weight="normal" text-anchor="middle" fill="#3a3a3a" >−</text>
<text x="204.20" y="459.70" font-family='"Liberation Serif", serif' font-size="12.15" font-weight="bold" text-anchor="end" fill="#111" stroke="#111" stroke-width="0.35">CBS siRNA</text>
<text x="242.00" y="461.40" font-family='"Liberation Serif", serif' font-size="19" font-weight="normal" text-anchor="middle" fill="#555" >−</text>
<text x="269.30" y="461.40" font-family='"Liberation Serif", serif' font-size="19" font-weight="normal" text-anchor="middle" fill="#555" >−</text>
<text x="296.80" y="461.40" font-family='"Liberation Serif", serif' font-size="19" font-weight="normal" text-anchor="middle" fill="#555" >+</text>
<text x="327.20" y="461.40" font-family='"Liberation Serif", serif' font-size="19" font-weight="normal" text-anchor="middle" fill="#555" >+</text>
<text x="355.10" y="461.40" font-family='"Liberation Serif", serif' font-size="19" font-weight="normal" text-anchor="middle" fill="#555" >−</text>
<text x="382.30" y="461.40" font-family='"Liberation Serif", serif' font-size="19" font-weight="normal" text-anchor="middle" fill="#555" >−</text>
<text x="413.30" y="461.40" font-family='"Liberation Serif", serif' font-size="19" font-weight="normal" text-anchor="middle" fill="#555" >+</text>
<text x="443.40" y="461.40" font-family='"Liberation Serif", serif' font-size="19" font-weight="normal" text-anchor="middle" fill="#555" >+</text>
<text x="204.20" y="477.20" font-family='"Liberation Serif", serif' font-size="12.15" font-weight="bold" text-anchor="end" fill="#111" stroke="#111" stroke-width="0.35">CSE siRNA</text>
<text x="242.00" y="479.50" font-family='"Liberation Serif", serif' font-size="19" font-weight="normal" text-anchor="middle" fill="#666" >−</text>
<text x="269.30" y="479.50" font-family='"Liberation Serif", serif' font-size="19" font-weight="normal" text-anchor="middle" fill="#666" >−</text>
<text x="296.80" y="479.50" font-family='"Liberation Serif", serif' font-size="19" font-weight="normal" text-anchor="middle" fill="#666" >−</text>
<text x="327.20" y="479.50" font-family='"Liberation Serif", serif' font-size="19" font-weight="normal" text-anchor="middle" fill="#666" >−</text>
<text x="355.10" y="479.50" font-family='"Liberation Serif", serif' font-size="19" font-weight="normal" text-anchor="middle" fill="#666" >+</text>
<text x="382.30" y="479.50" font-family='"Liberation Serif", serif' font-size="19" font-weight="normal" text-anchor="middle" fill="#666" >+</text>
<text x="413.30" y="479.50" font-family='"Liberation Serif", serif' font-size="19" font-weight="normal" text-anchor="middle" fill="#666" >+</text>
<text x="443.40" y="479.50" font-family='"Liberation Serif", serif' font-size="19" font-weight="normal" text-anchor="middle" fill="#666" >+</text>
<text x="207.00" y="494.90" font-family='"Liberation Serif", serif' font-size="12.15" font-weight="bold" text-anchor="end" fill="#111" stroke="#111" stroke-width="0.35">L-cysteine(2mM)</text>
<text x="242.00" y="496.50" font-family='"Liberation Serif", serif' font-size="19" font-weight="normal" text-anchor="middle" fill="#3a3a3a" >−</text>
<text x="269.30" y="496.50" font-family='"Liberation Serif", serif' font-size="19" font-weight="normal" text-anchor="middle" fill="#3a3a3a" >+</text>
<text x="296.80" y="496.50" font-family='"Liberation Serif", serif' font-size="19" font-weight="normal" text-anchor="middle" fill="#3a3a3a" >−</text>
<text x="327.20" y="496.50" font-family='"Liberation Serif", serif' font-size="19" font-weight="normal" text-anchor="middle" fill="#3a3a3a" >+</text>
<text x="355.10" y="496.50" font-family='"Liberation Serif", serif' font-size="19" font-weight="normal" text-anchor="middle" fill="#3a3a3a" >−</text>
<text x="382.30" y="496.50" font-family='"Liberation Serif", serif' font-size="19" font-weight="normal" text-anchor="middle" fill="#3a3a3a" >+</text>
<text x="413.30" y="496.50" font-family='"Liberation Serif", serif' font-size="19" font-weight="normal" text-anchor="middle" fill="#3a3a3a" >−</text>
<text x="443.40" y="496.50" font-family='"Liberation Serif", serif' font-size="19" font-weight="normal" text-anchor="middle" fill="#3a3a3a" >+</text>
</svg>
</body></html>
